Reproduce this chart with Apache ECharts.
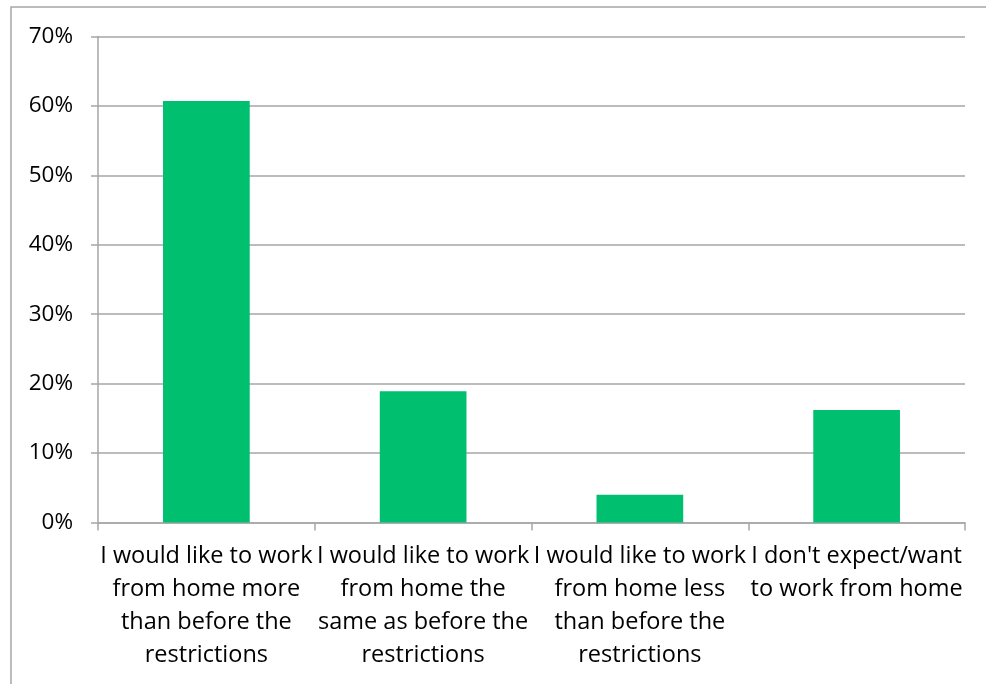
<!DOCTYPE html>
<html>
<head>
<meta charset="utf-8">
<script src="https://cdn.jsdelivr.net/npm/echarts@6/dist/echarts.min.js"></script>
<style>
html,body{margin:0;padding:0;background:#fff;}
#chart{width:986px;height:684px;}
</style>
</head>
<body>
<div id="chart"></div>
<script>
const categories = [
  "I would like to work\nfrom home more\nthan before the\nrestrictions",
  "I would like to work\nfrom home the\nsame as before the\nrestrictions",
  "I would like to work\nfrom home less\nthan before the\nrestrictions",
  "I don't expect/want\nto work from home"
];
const values = [60.7, 18.9, 4.0, 16.2];
const yTicks = [0, 10, 20, 30, 40, 50, 60, 70];

const chart = echarts.init(document.getElementById('chart'), null, {renderer: 'canvas'});
const fontFamily = '"Open Sans", Lato, sans-serif';
chart.setOption({
  animation: false,
  backgroundColor: '#ffffff',
  graphic: [{
    type: 'rect',
    shape: {x: 11, y: 7, width: 1000, height: 700},
    style: {fill: 'none', stroke: '#a6a6a6', lineWidth: 1.5},
    silent: true
  }],
  grid: {left: 98, right: 21, top: 36.5, bottom: 161.5, containLabel: false},
  xAxis: {
    type: 'category',
    data: categories,
    axisLine: {show: true, lineStyle: {color: '#a6a6a6', width: 1.5}},
    axisTick: {show: true, length: 8, alignWithLabel: false, lineStyle: {color: '#a6a6a6', width: 1.5}},
    axisLabel: {
      interval: 0,
      margin: 17,
      color: '#000',
      fontSize: 23.5,
      lineHeight: 33,
      fontFamily: fontFamily,
      align: 'center'
    }
  },
  yAxis: {
    type: 'value',
    min: yTicks[0],
    max: yTicks[yTicks.length - 1],
    interval: 10,
    axisLine: {show: true, lineStyle: {color: '#a6a6a6', width: 1.5}},
    axisTick: {show: true, length: 7, lineStyle: {color: '#a6a6a6', width: 1.5}},
    splitLine: {show: true, lineStyle: {color: '#a6a6a6', width: 1.5}},
    axisLabel: {
      formatter: v => v + '%',
      color: '#000',
      fontSize: 22.5,
      margin: 25,
      fontFamily: fontFamily
    }
  },
  series: [{
    type: 'bar',
    data: values,
    barWidth: '40%',
    itemStyle: {color: '#00bf6f'}
  }]
});
</script>
</body>
</html>
